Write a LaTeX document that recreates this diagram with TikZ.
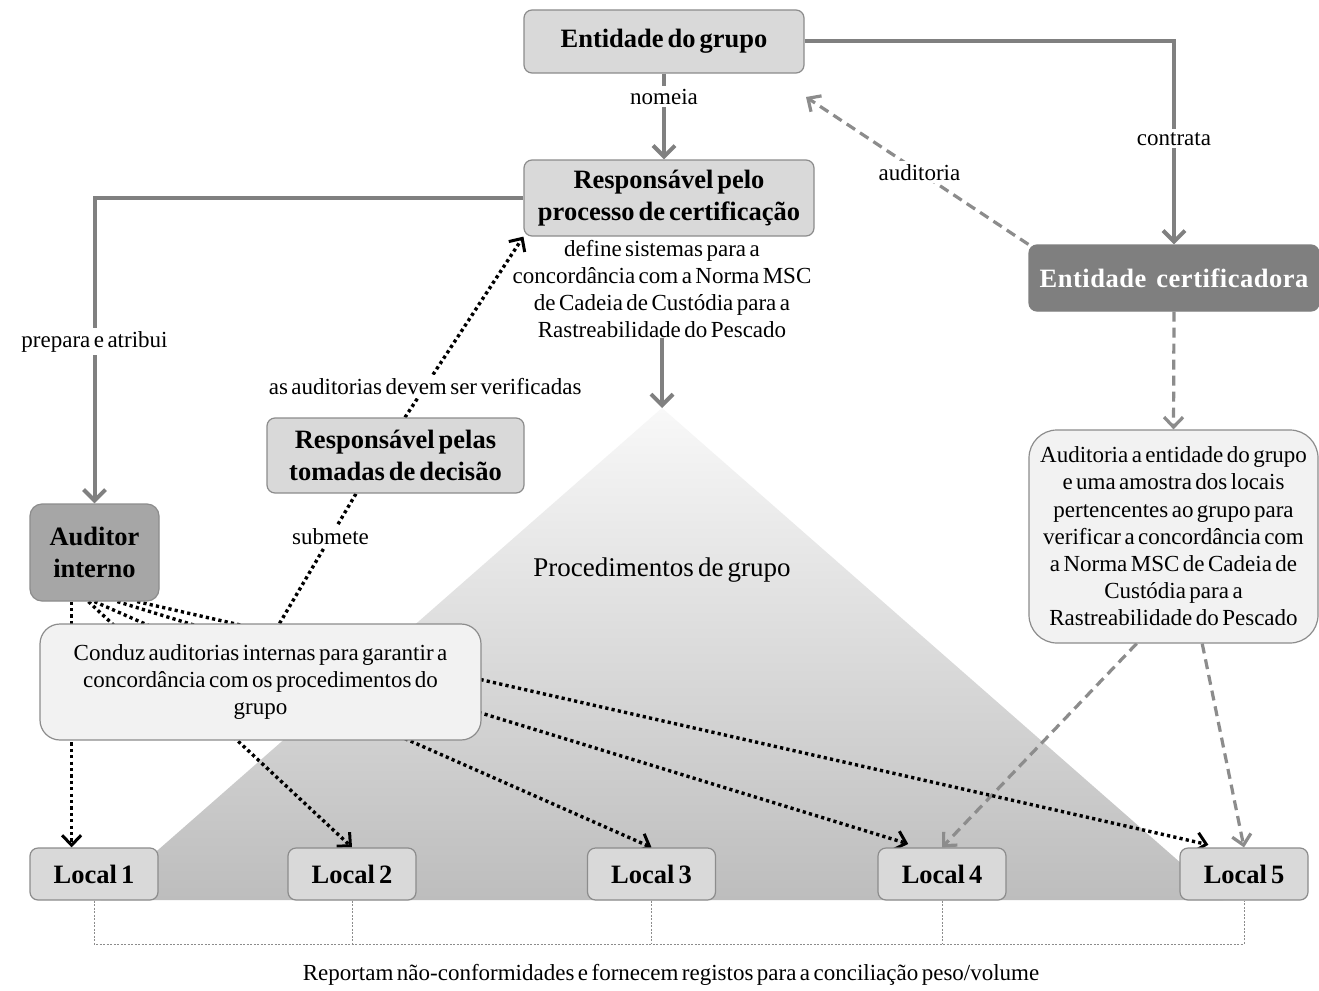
\documentclass[tikz,border=0pt]{standalone}
\usepackage{fontspec}
\setmainfont{Liberation Serif}[WordSpace=0.6]
\newfontfamily\spacedserif{Liberation Serif}[LetterSpace=2,WordSpace=1.4]
\usetikzlibrary{arrows.meta,calc}

\definecolor{boxfill}{HTML}{D9D9D9}
\definecolor{boxline}{HTML}{8C8C8C}
\definecolor{palefill}{HTML}{F2F2F2}
\definecolor{midfill}{HTML}{A6A6A6}
\definecolor{darkfill}{HTML}{7F7F7F}
\definecolor{linegray}{HTML}{808080}
\definecolor{dashgray}{HTML}{8C8C8C}
\definecolor{triTop}{HTML}{F8F8F8}
\definecolor{triBot}{HTML}{BDBDBD}

\pgfdeclarelayer{ground}
\pgfdeclarelayer{links}
\pgfsetlayers{ground,links,main}

\newcommand{\regfont}{\fontsize{23}{27.2}\selectfont}
\newcommand{\boldfont}{\fontsize{26.5}{32}\selectfont\bfseries}

\begin{document}
\begin{tikzpicture}[x=1pt,y=-1pt,
  box/.style={draw=boxline, line width=1.2pt, rounded corners=8pt, align=center,
    inner sep=0pt, font=\boldfont},
  greybox/.style={box, fill=boxfill},
  midbox/.style={box, fill=midfill, rounded corners=12pt},
  darkbox/.style={box, draw=darkfill, fill=darkfill, text=white,
    font=\fontsize{26.5}{32}\selectfont\spacedserif\bfseries},
  palebox/.style={box, fill=palefill, font=\regfont},
  sitebox/.style={greybox, minimum width=128pt, minimum height=52pt},
  plain/.style={align=center, inner sep=0pt, font=\regfont},
  lab/.style={fill=white, inner sep=3pt, font=\regfont},
  garrow/.style={draw=linegray, line width=4pt,
    -{Straight Barb[length=11pt,width=22pt]}},
  gdash/.style={draw=dashgray, line width=3.2pt, dash pattern=on 10pt off 6pt,
    -{Straight Barb[length=10pt,width=19pt]}},
  dotline/.style={draw=black, line width=3.4pt, dash pattern=on 3.2pt off 3.2pt},
  dotarrow/.style={dotline, -{Straight Barb[length=10pt,width=19pt,line width=3pt]}},
  bracket/.style={draw=boxline, line width=0.8pt, dash pattern=on 2pt off 1.5pt}
]
\useasboundingbox (0,0) rectangle (1319,990);

% boxes
\node[greybox, minimum width=280pt, minimum height=63pt] (ent) at (664,41.5) {Entidade do grupo};
\node[greybox, minimum width=290pt, minimum height=76pt] (resp) at (669,198)
  {Responsável pelo\\processo de certificação};
\node[plain] (defn) at (662,289)
  {define sistemas para a\\concordância com a Norma MSC\\de Cadeia de Custódia para a\\Rastreabilidade do Pescado};
\node[darkbox, minimum width=290pt, minimum height=66pt] (cert) at (1174,278) {Entidade certificadora};
\node[palebox, rounded corners=28pt, minimum width=289pt, minimum height=213pt] (aud) at (1173.5,536.5)
  {Auditoria a entidade do grupo\\e uma amostra dos locais\\pertencentes ao grupo para\\verificar a concordância com\\a Norma MSC de Cadeia de\\Custódia para a\\Rastreabilidade do Pescado};
\node[midbox, minimum width=129pt, minimum height=97pt] (ai) at (94.5,552.5) {Auditor\\interno};
\node[greybox, minimum width=257pt, minimum height=75pt] (dec) at (395.5,455.5)
  {Responsável pelas\\tomadas de decisão};
\node[palebox, rounded corners=20pt, minimum width=441pt, minimum height=116pt] (cond) at (260.5,682)
  {Conduz auditorias internas para garantir a\\concordância com os procedimentos do\\grupo};
\node[plain, font=\fontsize{27}{32}\selectfont] (proc) at (662,570) {Procedimentos de grupo};

\node[sitebox] (l1) at (94,874) {Local 1};
\node[sitebox] (l2) at (352,874) {Local 2};
\node[sitebox] (l3) at (651.5,874) {Local 3};
\node[sitebox] (l4) at (942,874) {Local 4};
\node[sitebox] (l5) at (1244,874) {Local 5};

\node[plain] (rep) at (671,975)
  {Reportam não-conformidades e fornecem registos para a conciliação peso/volume};

\coordinate (apex) at (662,408);
\coordinate (audtip) at (806,97);
\coordinate (bar) at (0,944);

% shaded pyramid of the group procedures
\begin{pgfonlayer}{ground}
  \fill[white] (0,0) rectangle (1319,990);
  \shade[top color=triTop, bottom color=triBot] (apex) -- (101,900) -- (1223,900) -- cycle;
\end{pgfonlayer}

% connectors
\begin{pgfonlayer}{links}
  \draw[garrow] (ent.south) -- node[lab,pos=0.27]{nomeia} (ent.south |- resp.north);
  \draw[garrow] (ent.east) -| node[lab,pos=0.74]{contrata} (cert.north);
  \draw[gdash] (cert.north west) -- node[lab,pos=0.49]{auditoria} (audtip);
  \draw[garrow] (resp.west) -| node[lab,pos=0.735]{prepara e atribui} (ai.north);
  \draw[garrow] (defn.south) -- (apex);
  \draw[gdash] (cert.south) -- (aud.north);
  \draw[gdash] (aud.251) -- (l4.north);
  \draw[gdash] (aud.285) -- (l5.north);

  \draw[dotarrow] (dec.76) -- node[lab,pos=0.17]{as auditorias devem ser verificadas} (resp.south west);
  \draw[dotline] (cond.72) -- node[lab,pos=0.667]{submete} (dec.224.2);

  \draw[dotarrow] (ai.245) -- (ai.245 |- l1.north);
  \draw[dotarrow] (ai.263) -- (l2.north);
  \draw[dotarrow] (ai.south) -- (l3.north);
  \draw[dotarrow, shorten >=12pt] (ai.295) -- (l4.130.2);
  \draw[dotarrow, shorten >=12pt] (ai.311) -- (l5.132.7);

  \draw[bracket] (l1.south) -- (l1.south |- bar) -- (l5.south |- bar) -- (l5.south);
  \draw[bracket] (l2.south) -- (l2.south |- bar);
  \draw[bracket] (l3.south) -- (l3.south |- bar);
  \draw[bracket] (l4.south) -- (l4.south |- bar);
\end{pgfonlayer}
\end{tikzpicture}
\end{document}
